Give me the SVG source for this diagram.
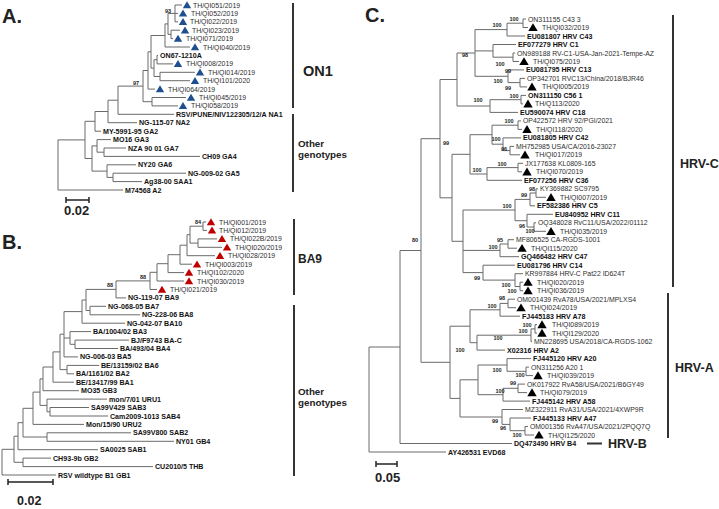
<svg xmlns="http://www.w3.org/2000/svg" xmlns:xlink="http://www.w3.org/1999/xlink" width="719" height="509" viewBox="0 0 719 509">
<style>
text{font-family:"Liberation Sans",Arial,sans-serif}
.t{font-size:6.9px;fill:#2e2e2e}
.b{font-size:7.1px;font-weight:bold;fill:#111}
.bs{font-size:5.5px;font-weight:bold;fill:#222;text-anchor:middle}
.tree{fill:none;stroke:#6a6a6a;stroke-width:1}
.bar{stroke:#333;stroke-width:2;fill:none}
.sc{stroke:#222;stroke-width:1.5;fill:none}
.big{font-weight:bold;fill:#222}
.pl{font-size:20px;font-weight:bold;fill:#222}
.blue{fill:#1f4f8f}
.red{fill:#c00000}
.blk{fill:#000}
</style>
<defs>
<path id="tri" d="M0,-3.8 L4.2,3.2 L-4.2,3.2 Z"/>
<path id="triC" d="M0,-4.3 L4.7,3.6 L-4.7,3.6 Z"/>
</defs>
<rect width="719" height="509" fill="#fff"/>

<g id="connectors">
<path class="tree" d="M175,5H182M175,13.4H178M175,21.8H178M171,30.2H180M171,38.6H173M165,47H190M157,55.5H158M157,63.9H173M160,72.3H195M160,80.7H190M148,89.1H155M152,97.5H186M152,105.9H178M118,114.3H174M108,122.7H137M95,131.2H101M97,139.6H111M104,148H126M104,156.4H200M107,164.8H136M113,173.2H186M113,181.6H142M58,190H123
M175,5V21.8M171,30.2V38.6M168,13.4V34.4M168,13.4H175M168,34.4H171M165,23.9V47M165,23.9H168M157,55.5V63.9M160,72.3V80.7M154,59.7V76.5M154,59.7H157M154,76.5H160M151,35.5V68.1M151,35.5H165M151,68.1H154M148,51.8V89.1M148,51.8H151M152,97.5V105.9M143,70.5V101.7M143,70.5H148M143,101.7H152M118,86.1V114.3M118,86.1H143M108,100.2V122.7M108,100.2H118M95,111.5V131.2M95,111.5H108M104,148V156.4M97,139.6V152.2M97,152.2H104M113,173.2V181.6M107,164.8V177.4M107,177.4H113M92,145.9V171.1M92,145.9H97M92,171.1H107M85,121.3V158.5M85,121.3H95M85,158.5H92M58,139.9V190M58,139.9H85"/>
<path class="tree" d="M203,222H206M203,230.4H207M198,238.9H217M198,247.3H222M187,255.7H215M180,264.2H192M168,272.6H184M157,281H184M150,289.5H157M116,297.9H126M90,306.3H106M90,314.8H140M82,323.2H125M70,331.6H91M75,340.1H129M75,348.5H118M64,356.9H78M67,365.4H99M67,373.8H74M53,382.2H74M43,390.7H79M47,399.1H107M50,407.5H89M50,416H108M33,424.4H84M47,432.8H131M47,441.3H174M18,449.7H98M23,458.1H51M23,466.6H153M2,475H56
M203,222V230.4M198,238.9V247.3M190,226.2V243.1M190,226.2H203M190,243.1H198M187,234.7V255.7M187,234.7H190M180,245.2V264.2M180,245.2H187M168,254.7V272.6M168,254.7H180M157,263.7V281M157,263.7H168M150,272.3V289.5M150,272.3H157M116,280.9V297.9M116,280.9H150M90,306.3V314.8M86,289.4V310.5M86,289.4H116M86,310.5H90M82,300V323.2M82,300H86M75,340.1V348.5M70,331.6V344.3M70,344.3H75M64,311.6V356.9M64,311.6H82M64,338H70M67,365.4V373.8M60,334.2V369.6M60,334.2H64M60,369.6H67M53,351.9V382.2M53,351.9H60M43,367V390.7M43,367H53M50,407.5V416M47,399.1V411.8M47,411.8H50M40,378.9V405.4M40,378.9H43M40,405.4H47M33,392.1V424.4M33,392.1H40M47,432.8V441.3M23,408.3V437M23,408.3H33M23,437H47M18,422.7V449.7M18,422.7H23M23,458.1V466.6M14,436.2V462.3M14,436.2H18M14,462.3H23M2,449.3V475M2,449.3H14"/>
<path class="tree" d="M523,19H526M523,27.5H528M507,36H525M493,44.5H516M513,53H515M513,61.5H519M508,69.9H524M520,78.4H525M520,86.9H527M521,95.4H526M521,103.9H523M490,112.4H518M518,120.9H521M518,129.4H522M503,137.9H521M510,146.4H514M510,154.8H520M518,163.3H523M518,171.8H522M487,180.3H522M536,188.8H538M536,197.3H546M530,205.8H535M527,214.3H553M534,222.8H536M534,231.3H546M508,239.7H514M508,248.2H517M500,256.7H519M483,265.2H515M515,273.7H523M520,282.2H523M520,290.7H523M508,299.2H515M508,307.7H516M500,316.2H520M535,324.6H537M535,333.1H537M531,341.6H532M477,350.1H505M507,358.6H531M526,367.1H529M526,375.6H533M518,384.1H525M518,392.6H527M503,401.1H530M502,409.5H523M510,418H531M525,426.5H528M525,435H534M400,443.5H512M369,452H446
M523,19V27.5M507,23.2V36M507,23.2H523M513,53V61.5M493,44.5V57.2M493,57.2H513M520,78.4V86.9M508,69.9V82.6M508,82.6H520M475,29.6V76.3M475,29.6H507M475,50.9H493M475,76.3H508M521,95.4V103.9M490,99.7V112.4M490,99.7H521M457,53V106M457,53H475M457,106H490M518,120.9V129.4M510,146.4V154.8M503,137.9V150.6M503,150.6H510M492,125.2V144.2M492,125.2H518M492,144.2H503M518,163.3V171.8M487,167.6V180.3M487,167.6H518M470,134.7V174M470,134.7H492M470,174H487M536,188.8V197.3M530,193V205.8M530,193H536M534,222.8V231.3M527,214.3V227M527,227H534M515,199.4V220.7M515,199.4H530M515,220.7H527M508,239.7V248.2M500,244V256.7M500,244H508M520,282.2V290.7M515,273.7V286.5M515,286.5H520M483,265.2V280.1M483,280.1H515M463,210V272.6M463,210H515M463,250.4H500M463,272.6H483M452,154.3V241.3M452,154.3H470M452,241.3H463M440,79.5V197.8M440,79.5H457M440,197.8H452
M508,299.2V307.7M500,303.4V316.2M500,303.4H508M535,324.6V333.1M531,328.9V341.6M531,328.9H535M477,335.2V350.1M477,335.2H531M470,309.8V342.7M470,309.8H500M470,342.7H477M526,367.1V375.6M507,358.6V371.3M507,371.3H526M518,384.1V392.6M503,388.3V401.1M503,388.3H518M478,365V394.7M478,365H507M478,394.7H503M525,426.5V435M510,418V430.7M510,430.7H525M502,409.5V424.4M502,424.4H510M460,379.8V417M460,379.8H478M460,417H502M450,326.2V398.4M450,326.2H470M450,398.4H460M421,138.7V362.3M421,138.7H440M421,362.3H450M400,250.5V443.5M400,250.5H421M369,347V452M369,347H400"/>
</g>

<g id="bootstrap">
<text class="bs" x="168" y="13">93</text>
<text class="bs" x="136" y="85">97</text>
<text class="bs" x="198" y="224">84</text>
<text class="bs" x="143" y="279">88</text>
<text class="bs" x="110" y="287">88</text>
<text class="bs" x="514" y="21">100</text>
<text class="bs" x="497" y="27">100</text>
<text class="bs" x="465" y="57">98</text>
<text class="bs" x="500" y="66">100</text>
<text class="bs" x="508" y="73">99</text>
<text class="bs" x="498" y="83">100</text>
<text class="bs" x="508" y="90">99</text>
<text class="bs" x="514" y="98">100</text>
<text class="bs" x="478" y="102">100</text>
<text class="bs" x="509" y="123">100</text>
<text class="bs" x="496" y="141">100</text>
<text class="bs" x="504" y="151">96</text>
<text class="bs" x="446" y="145">99</text>
<text class="bs" x="502" y="166">100</text>
<text class="bs" x="477" y="172">100</text>
<text class="bs" x="532" y="191">98</text>
<text class="bs" x="524" y="197">99</text>
<text class="bs" x="507" y="208">100</text>
<text class="bs" x="522" y="228">96</text>
<text class="bs" x="530" y="233">100</text>
<text class="bs" x="415" y="242">80</text>
<text class="bs" x="500" y="242">95</text>
<text class="bs" x="493" y="249">100</text>
<text class="bs" x="477" y="280">99</text>
<text class="bs" x="506" y="287">100</text>
<text class="bs" x="512" y="293">100</text>
<text class="bs" x="502" y="300">98</text>
<text class="bs" x="492" y="308">100</text>
<text class="bs" x="527" y="327">100</text>
<text class="bs" x="523" y="333">100</text>
<text class="bs" x="498" y="340">100</text>
<text class="bs" x="460" y="352">100</text>
<text class="bs" x="497" y="372">100</text>
<text class="bs" x="520" y="377">100</text>
<text class="bs" x="513" y="385">99</text>
<text class="bs" x="500" y="393">100</text>
<text class="bs" x="495" y="423">99</text>
<text class="bs" x="503" y="430">96</text>
<text class="bs" x="517" y="437">100</text>
</g>

<!-- Panel A -->
<g id="panel-a-label"><text class="pl" x="2" y="23">A.</text></g>
<g id="a-qi051"><use href="#tri" class="blue" x="187" y="5"/><text class="t" x="193" y="7.5">TH/QI051/2019</text></g>
<g id="a-qi052"><use href="#tri" class="blue" x="183" y="13.4"/><text class="t" x="191" y="15.9">TH/QI052/2019</text></g>
<g id="a-qi022"><use href="#tri" class="blue" x="183" y="21.8"/><text class="t" x="190" y="24.3">TH/QI022/2019</text></g>
<g id="a-qi023"><use href="#tri" class="blue" x="185" y="30.2"/><text class="t" x="192" y="32.7">TH/QI023/2019</text></g>
<g id="a-qi071"><use href="#tri" class="blue" x="178" y="38.6"/><text class="t" x="186" y="41.1">TH/QI071/2019</text></g>
<g id="a-qi040"><use href="#tri" class="blue" x="195" y="47"/><text class="t" x="203" y="49.5">TH/QI040/2019</text></g>
<g id="a-on67"><text class="b" x="160" y="58">ON67-1210A</text></g>
<g id="a-qi008"><use href="#tri" class="blue" x="178" y="63.9"/><text class="t" x="186" y="66.4">TH/QI008/2019</text></g>
<g id="a-qi014"><use href="#tri" class="blue" x="200" y="72.3"/><text class="t" x="208" y="74.8">TH/QI014/2019</text></g>
<g id="a-qi101"><use href="#tri" class="blue" x="195" y="80.7"/><text class="t" x="203" y="83.2">TH/QI101/2020</text></g>
<g id="a-qi064"><use href="#tri" class="blue" x="160" y="89.1"/><text class="t" x="168" y="91.6">TH/QI064/2019</text></g>
<g id="a-qi045"><use href="#tri" class="blue" x="191" y="97.5"/><text class="t" x="199" y="100">TH/QI045/2019</text></g>
<g id="a-qi058"><use href="#tri" class="blue" x="183" y="105.9"/><text class="t" x="191" y="108.4">TH/QI058/2019</text></g>
<g id="a-na1"><text class="b" x="176" y="116.8">RSV/PUNE/NIV122305/12/A NA1</text></g>
<g id="a-na2"><text class="b" x="139" y="125.2">NG-115-07 NA2</text></g>
<g id="a-ga2"><text class="b" x="103" y="133.7">MY-5991-95 GA2</text></g>
<g id="a-ga3"><text class="b" x="113" y="142.1">MO16 GA3</text></g>
<g id="a-ga7"><text class="b" x="128" y="150.5">NZA 90 01 GA7</text></g>
<g id="a-ga4"><text class="b" x="202" y="158.9">CH09 GA4</text></g>
<g id="a-ga6"><text class="b" x="138" y="167.3">NY20 GA6</text></g>
<g id="a-ga5"><text class="b" x="188" y="175.7">NG-009-02 GA5</text></g>
<g id="a-saa1"><text class="b" x="144" y="184.1">Ag38-00 SAA1</text></g>
<g id="a-a2"><text class="b" x="125" y="192.5">M74568 A2</text></g>
<g id="a-on1"><line class="bar" x1="293" y1="3" x2="293" y2="108"/><text class="big" x="303" y="76" font-size="14.5">ON1</text></g>
<g id="a-other"><line class="bar" x1="293" y1="114" x2="293" y2="192"/><text class="big" x="298" y="146.5" font-size="9.8">Other</text><text class="big" x="298" y="158" font-size="9.8">genotypes</text></g>
<g id="a-scale"><path class="sc" d="M66,200H89M66,197V203M89,197V203"/><text class="big" x="64" y="215" font-size="13">0.02</text></g>

<!-- Panel B -->
<g id="panel-b-label"><text class="pl" x="2" y="249">B.</text></g>
<g id="b-qi001"><use href="#tri" class="red" x="211" y="222"/><text class="t" x="219" y="224.5">TH/QI001/2019</text></g>
<g id="b-qi012"><use href="#tri" class="red" x="212" y="230.4"/><text class="t" x="219" y="232.9">TH/QI012/2019</text></g>
<g id="b-qi022b"><use href="#tri" class="red" x="222" y="238.9"/><text class="t" x="230" y="241.4">TH/QI022B/2019</text></g>
<g id="b-qi020"><use href="#tri" class="red" x="227" y="247.3"/><text class="t" x="235" y="249.8">TH/QI020/2019</text></g>
<g id="b-qi028"><use href="#tri" class="red" x="220" y="255.7"/><text class="t" x="228" y="258.2">TH/QI028/2019</text></g>
<g id="b-qi003"><use href="#tri" class="red" x="197" y="264.2"/><text class="t" x="205" y="266.7">TH/QI003/2019</text></g>
<g id="b-qi102"><use href="#tri" class="red" x="189" y="272.6"/><text class="t" x="197" y="275.1">TH/QI102/2020</text></g>
<g id="b-qi030"><use href="#tri" class="red" x="189" y="281"/><text class="t" x="197" y="283.5">TH/QI030/2019</text></g>
<g id="b-qi021"><use href="#tri" class="red" x="162" y="289.5"/><text class="t" x="170" y="292">TH/QI021/2019</text></g>
<g id="b-ba9"><text class="b" x="128" y="300.4">NG-119-07 BA9</text></g>
<g id="b-ba7"><text class="b" x="108" y="308.8">NG-068-05 BA7</text></g>
<g id="b-ba8"><text class="b" x="142" y="317.3">NG-228-06 BA8</text></g>
<g id="b-ba10"><text class="b" x="127" y="325.7">NG-042-07 BA10</text></g>
<g id="b-ba3"><text class="b" x="93" y="334.1">BA/1004/02 BA3</text></g>
<g id="b-bac"><text class="b" x="131" y="342.6">BJ/F9743 BA-C</text></g>
<g id="b-ba4"><text class="b" x="120" y="351">BA/493/04 BA4</text></g>
<g id="b-ba5"><text class="b" x="80" y="359.4">NG-006-03 BA5</text></g>
<g id="b-ba6"><text class="b" x="101" y="367.9">BE/13159/02 BA6</text></g>
<g id="b-ba2"><text class="b" x="76" y="376.3">BA/1161/02 BA2</text></g>
<g id="b-ba1"><text class="b" x="76" y="384.7">BE/13417/99 BA1</text></g>
<g id="b-gb3"><text class="b" x="81" y="393.2">MO35 GB3</text></g>
<g id="b-uru1"><text class="b" x="109" y="401.6">mon/7/01 URU1</text></g>
<g id="b-sab3"><text class="b" x="91" y="410">SA99V429 SAB3</text></g>
<g id="b-sab4"><text class="b" x="110" y="418.5">Cam2009-1013 SAB4</text></g>
<g id="b-uru2"><text class="b" x="86" y="426.9">Mon/15/90 URU2</text></g>
<g id="b-sab2"><text class="b" x="133" y="435.3">SA99V800 SAB2</text></g>
<g id="b-gb4"><text class="b" x="176" y="443.8">NY01 GB4</text></g>
<g id="b-sab1"><text class="b" x="100" y="452.2">SA0025 SAB1</text></g>
<g id="b-gb2"><text class="b" x="53" y="460.6">CH93-9b GB2</text></g>
<g id="b-thb"><text class="b" x="155" y="469.1">CU2010/5 THB</text></g>
<g id="b-gb1"><text class="b" x="58" y="477.5">RSV wildtype B1 GB1</text></g>
<g id="b-ba9clade"><line class="bar" x1="294" y1="219" x2="294" y2="295"/><text class="big" x="298" y="263.3" font-size="12">BA9</text></g>
<g id="b-other"><line class="bar" x1="294" y1="305" x2="294" y2="476"/><text class="big" x="298" y="394.5" font-size="9.8">Other</text><text class="big" x="298" y="406" font-size="9.8">genotypes</text></g>
<g id="b-scale"><path class="sc" d="M8,482H53M8,479V485M53,479V485"/><text class="big" x="17" y="505" font-size="12.5">0.02</text></g>

<!-- Panel C -->
<g id="panel-c-label"><text class="pl" x="365" y="22">C.</text></g>
<g id="c-on311155"><text class="t" x="528" y="21.5">ON311155 C43 3</text></g>
<g id="c-qi032"><use href="#triC" class="blk" x="533" y="27.5"/><text class="t" x="542" y="30">TH/QI032/2019</text></g>
<g id="c-eu081807"><text class="b" x="527" y="38.5">EU081807 HRV C43</text></g>
<g id="c-ef077279"><text class="b" x="518" y="47">EF077279 HRV C1</text></g>
<g id="c-on989188"><text class="t" x="517" y="55.5">ON989188 RV-C1-USA-Jan-2021-Tempe-AZ</text></g>
<g id="c-qi075"><use href="#triC" class="blk" x="524" y="61.5"/><text class="t" x="533" y="64">TH/QI075/2019</text></g>
<g id="c-eu081795"><text class="b" x="526" y="72.4">EU081795 HRV C13</text></g>
<g id="c-op342701"><text class="t" x="527" y="80.9">OP342701 RVC13/China/2018/BJR46</text></g>
<g id="c-qi005"><use href="#triC" class="blk" x="532" y="86.9"/><text class="t" x="542" y="89.4">TH/QI005/2019</text></g>
<g id="c-on311150"><text class="b" x="528" y="97.9">ON311150 C56 1</text></g>
<g id="c-q113"><use href="#triC" class="blk" x="528" y="103.9"/><text class="t" x="535" y="106.4">TH/Q113/2020</text></g>
<g id="c-eu590074"><text class="b" x="520" y="114.9">EU590074 HRV C18</text></g>
<g id="c-op422572"><text class="t" x="523" y="123.4">OP422572 HRV 92/PGI/2021</text></g>
<g id="c-qi118"><use href="#triC" class="blk" x="527" y="129.4"/><text class="t" x="536" y="131.9">TH/QI118/2020</text></g>
<g id="c-eu081805"><text class="b" x="523" y="140.4">EU081805 HRV C42</text></g>
<g id="c-mh752985"><text class="t" x="516" y="148.9">MH752985 USA/CA/2016-23027</text></g>
<g id="c-qi017"><use href="#triC" class="blk" x="525" y="154.8"/><text class="t" x="535" y="157.3">TH/QI017/2019</text></g>
<g id="c-jx177638"><text class="t" x="525" y="165.8">JX177638 KL0809-165</text></g>
<g id="c-qi070"><use href="#triC" class="blk" x="527" y="171.8"/><text class="t" x="536" y="174.3">TH/QI070/2019</text></g>
<g id="c-ef077256"><text class="b" x="524" y="182.8">EF077256 HRV C36</text></g>
<g id="c-ky369882"><text class="t" x="540" y="191.3">KY369882 SC9795</text></g>
<g id="c-qi007"><use href="#triC" class="blk" x="551" y="197.3"/><text class="t" x="560" y="199.8">TH/QI007/2019</text></g>
<g id="c-ef582386"><text class="b" x="537" y="208.3">EF582386 HRV C5</text></g>
<g id="c-eu840952"><text class="b" x="555" y="216.8">EU840952 HRV C11</text></g>
<g id="c-oq348028"><text class="t" x="538" y="225.3">OQ348028 RvC11/USA/2022/01112</text></g>
<g id="c-qi035"><use href="#triC" class="blk" x="551" y="231.3"/><text class="t" x="560" y="233.8">TH/QI035/2019</text></g>
<g id="c-mf806525"><text class="t" x="516" y="242.2">MF806525 CA-RGDS-1001</text></g>
<g id="c-qi115"><use href="#triC" class="blk" x="522" y="248.2"/><text class="t" x="531" y="250.7">TH/QI115/2020</text></g>
<g id="c-gq466482"><text class="b" x="521" y="259.2">GQ466482 HRV C47</text></g>
<g id="c-eu081796"><text class="b" x="517" y="267.7">EU081796 HRV C14</text></g>
<g id="c-kr997884"><text class="t" x="525" y="276.2">KR997884 HRV-C Pat22 ID624T</text></g>
<g id="c-qi020"><use href="#triC" class="blk" x="528" y="282.2"/><text class="t" x="537" y="284.7">TH/QI020/2019</text></g>
<g id="c-qi036"><use href="#triC" class="blk" x="528" y="290.7"/><text class="t" x="537" y="293.2">TH/QI036/2019</text></g>
<g id="c-om001439"><text class="t" x="517" y="301.7">OM001439 RvA78/USA/2021/MPLXS4</text></g>
<g id="c-qi024"><use href="#triC" class="blk" x="521" y="307.7"/><text class="t" x="530" y="310.2">TH/QI024/2019</text></g>
<g id="c-fj445183"><text class="b" x="522" y="318.7">FJ445183 HRV A78</text></g>
<g id="c-qi089"><use href="#triC" class="blk" x="542" y="324.6"/><text class="t" x="552" y="327.1">TH/QI089/2019</text></g>
<g id="c-qi129"><use href="#triC" class="blk" x="542" y="333.1"/><text class="t" x="552" y="335.6">TH/QI129/2020</text></g>
<g id="c-mn228695"><text class="t" x="534" y="344.1">MN228695 USA/2018/CA-RGDS-1062</text></g>
<g id="c-x02316"><text class="b" x="507" y="352.6">X02316 HRV A2</text></g>
<g id="c-fj445120"><text class="b" x="533" y="361.1">FJ445120 HRV A20</text></g>
<g id="c-on311256"><text class="t" x="531" y="369.6">ON311256 A20 1</text></g>
<g id="c-qi039"><use href="#triC" class="blk" x="538" y="375.6"/><text class="t" x="547" y="378.1">TH/QI039/2019</text></g>
<g id="c-ok017922"><text class="t" x="527" y="386.6">OK017922 RvA58/USA/2021/B6GY49</text></g>
<g id="c-qi079"><use href="#triC" class="blk" x="532" y="392.6"/><text class="t" x="540" y="395.1">TH/QI079/2019</text></g>
<g id="c-fj445142"><text class="b" x="532" y="403.6">FJ445142 HRV A58</text></g>
<g id="c-mz322911"><text class="t" x="525" y="412">MZ322911 RvA31/USA/2021/4XWP9R</text></g>
<g id="c-fj445133"><text class="b" x="533" y="420.5">FJ445133 HRV A47</text></g>
<g id="c-om001356"><text class="t" x="530" y="429">OM001356 RvA47/USA/2021/2PQQ7Q</text></g>
<g id="c-qi125"><use href="#triC" class="blk" x="539" y="435"/><text class="t" x="548" y="437.5">TH/QI125/2020</text></g>
<g id="c-dq473490"><text class="b" x="514" y="446">DQ473490 HRV B4</text></g>
<g id="c-ay426531"><text class="b" x="448" y="454.5">AY426531 EVD68</text></g>
<g id="c-hrvc"><line class="bar" x1="673" y1="15" x2="673" y2="287"/><text class="big" x="680" y="167.5" font-size="12.5">HRV-C</text></g>
<g id="c-hrva"><line class="bar" x1="668" y1="293" x2="668" y2="438"/><text class="big" x="675" y="371.5" font-size="12.5">HRV-A</text></g>
<g id="c-hrvb"><line class="bar" x1="587" y1="443.5" x2="602" y2="443.5"/><text class="big" x="608" y="448" font-size="12.5">HRV-B</text></g>
<g id="c-scale"><path class="sc" d="M376,464H397M376,461V467M397,461V467"/><text class="big" x="375" y="482" font-size="13">0.05</text></g>
</svg>
